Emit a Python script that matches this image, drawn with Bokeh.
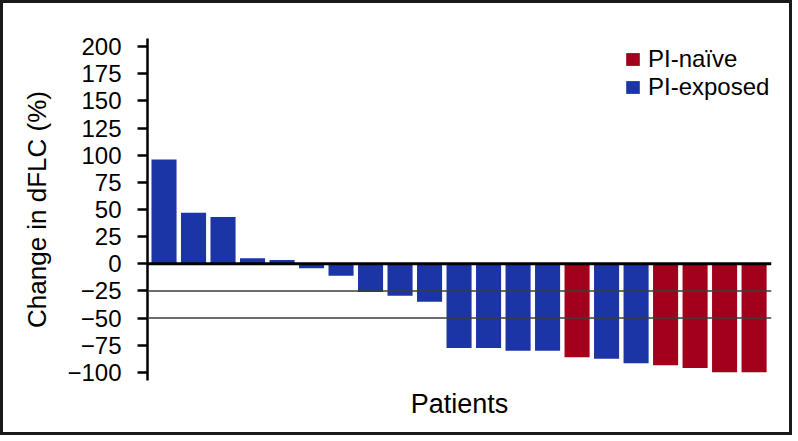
from bokeh.plotting import figure
from bokeh.models import ColumnDataSource, Span, Legend, LegendItem, FixedTicker
from bokeh.embed import file_html
from bokeh.resources import INLINE

# ---- data ----
patients = list(range(1, 22))
change = [96, 47, 43, 5, 3.5, -4, -11, -26, -29.5, -35,
          -77.5, -77.5, -80, -80, -86, -87.5, -91.5, -93.5, -96, -100, -100]
group = ["exp"] * 14 + ["naive", "exp", "exp", "naive", "naive", "naive", "naive"]
y_ticks = [-100, -75, -50, -25, 0, 25, 50, 75, 100, 125, 150, 175, 200]
y_tick_labels = ["\u2212100", "\u221275", "\u221250", "\u221225", "0", "25", "50",
                 "75", "100", "125", "150", "175", "200"]
ref_lines = [-25, -50]
legend_labels = {"naive": "PI-na\u00efve", "exp": "PI-exposed"}
colors = {"naive": "#a3001b", "exp": "#1b35a6"}

TICK_FONT = "Liberation Sans"
LABEL_FONT = "Liberation Sans"

p = figure(width=792, height=435, output_backend="svg", toolbar_location=None,
           x_range=(0.44, 21.59), y_range=(-107.5, 207.5),
           min_border_left=144, min_border_right=24, min_border_top=35,
           min_border_bottom=58)
p.styles = {"border": "3px solid #1a1a1a"}
p.outline_line_color = None
p.xgrid.visible = False
p.ygrid.visible = False
p.background_fill_color = "white"
p.border_fill_color = "white"

renderers = {}
for g in ["exp", "naive"]:
    xs = [x for x, gg in zip(patients, group) if gg == g]
    ys = [y for y, gg in zip(change, group) if gg == g]
    src = ColumnDataSource(dict(x=xs, top=ys))
    renderers[g] = p.vbar(x="x", top="top", bottom=0, width=0.85, source=src,
                          fill_color=colors[g], line_color=None)

for v in ref_lines:
    p.add_layout(Span(location=v, dimension="width", line_color="#3c3c3c", line_width=1.5))
p.add_layout(Span(location=0, dimension="width", line_color="black", line_width=3))

# y axis
ya = p.yaxis[0]
ya.ticker = FixedTicker(ticks=y_ticks)
ya.major_label_overrides = {t: l for t, l in zip(y_ticks, y_tick_labels)}
ya.minor_tick_line_color = None
ya.major_tick_in = 0
ya.major_tick_out = 10
ya.major_tick_line_width = 2.5
ya.axis_line_width = 2.5
ya.axis_line_color = "black"
ya.major_tick_line_color = "black"
ya.major_label_text_font = TICK_FONT
ya.major_label_text_font_size = "24px"
ya.major_label_text_color = "black"
ya.major_label_standoff = 16
ya.axis_label = "Change in dFLC (%)"
ya.axis_label_text_font = LABEL_FONT
ya.axis_label_text_font_size = "26px"
ya.axis_label_text_font_style = "normal"
ya.axis_label_text_color = "black"
ya.axis_label_standoff = 12

# x axis
xa = p.xaxis[0]
xa.ticker = FixedTicker(ticks=[])
xa.axis_line_color = None
xa.major_tick_line_color = None
xa.minor_tick_line_color = None
xa.major_label_text_font_size = "0px"
xa.axis_label = "Patients"
xa.axis_label_text_font = LABEL_FONT
xa.axis_label_text_font_size = "27px"
xa.axis_label_text_font_style = "normal"
xa.axis_label_text_color = "black"
xa.axis_label_standoff = 8

legend = Legend(items=[LegendItem(label=legend_labels["naive"], renderers=[renderers["naive"]]),
                       LegendItem(label=legend_labels["exp"], renderers=[renderers["exp"]])],
                location=(477, 279), padding=0, margin=0, spacing=0,
                glyph_width=17, glyph_height=16, label_standoff=7,
                label_text_font=TICK_FONT, label_text_font_size="24px",
                label_text_color="black",
                border_line_color=None, background_fill_alpha=0)
p.add_layout(legend)

open("out.html", "w").write(file_html(p, INLINE))
